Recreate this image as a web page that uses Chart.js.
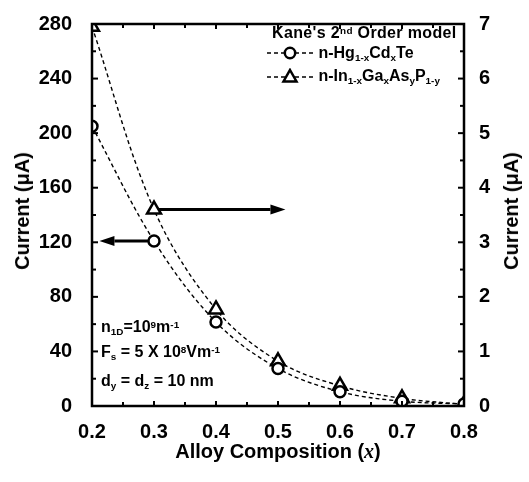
<!DOCTYPE html>
<html>
<head>
<meta charset="utf-8">
<script src="https://cdn.jsdelivr.net/npm/chart.js@4.4.1/dist/chart.umd.min.js"></script>
<style>
  html, body { margin: 0; padding: 0; background: #fff; }
  #wrap { position: relative; width: 529px; height: 482px; font-family: "Liberation Sans", Arial, sans-serif; font-weight: bold; color: #000; }
  canvas { position: absolute; left: 0; top: 0; }
  .ov { position: absolute; white-space: nowrap; line-height: 1; }
  .ov sub, .ov sup { font-size: 62%; position: relative; vertical-align: baseline; line-height: 0; }
  .ov sub { top: 0.35em; }
  .ov sup { top: -0.42em; }
  .rot { transform: translate(-50%, -50%) rotate(-90deg); font-size: 20px; }
</style>
</head>
<body>
<div id="wrap">
  <canvas id="c" width="529" height="482"></canvas>
  <div class="ov rot" style="left:22px; top:211px;">Current (μA)</div>
  <div class="ov rot" style="left:511px; top:211px;">Current (μA)</div>
  <div class="ov" style="left:278px; top:451px; transform:translate(-50%,-50%); font-size:20px;">Alloy Composition (<i style="font-family:'Liberation Serif','Times New Roman',serif;">x</i>)</div>

  <div class="ov" style="left:272px; top:25px; font-size:16px; letter-spacing:0.35px;">Kane's 2<sup>nd</sup> Order model</div>
  <div class="ov" style="left:266px; top:45px; font-size:16px;">
    <svg width="48" height="16" style="vertical-align:middle; position:relative; top:-1px;"><line x1="1" y1="8" x2="47" y2="8" stroke="#000" stroke-width="1.4" stroke-dasharray="4,3"/><circle cx="24" cy="8" r="5.2" fill="#fff" stroke="#000" stroke-width="2.5"/></svg> n-Hg<sub>1-x</sub>Cd<sub>x</sub>Te</div>
  <div class="ov" style="left:266px; top:68px; font-size:16px;">
    <svg width="48" height="16" style="vertical-align:middle; position:relative; top:-1px;"><line x1="1" y1="9" x2="47" y2="9" stroke="#000" stroke-width="1.4" stroke-dasharray="4,3"/><polygon points="24,2 30.5,13.5 17.5,13.5" fill="#fff" stroke="#000" stroke-width="2.5" stroke-linejoin="miter"/></svg> n-In<sub>1-x</sub>Ga<sub>x</sub>As<sub>y</sub>P<sub>1-y</sub></div>

  <div class="ov" style="left:101px; top:319px; font-size:16px;">n<sub>1D</sub>=10<sup>9</sup>m<sup>-1</sup></div>
  <div class="ov" style="left:101px; top:344px; font-size:16px;">F<sub>s</sub> = 5 X 10<sup>8</sup>Vm<sup>-1</sup></div>
  <div class="ov" style="left:101px; top:373px; font-size:16px;">d<sub>y</sub> = d<sub>z</sub> = 10 nm</div>
</div>
<script>
// ---- data ----
const composition = [0.2, 0.3, 0.4, 0.5, 0.6, 0.7, 0.8];
const hgCdTe = [205, 121, 61.5, 27.5, 10.5, 3.5, 1.5];        // left axis, μA
const inGaAsP = [6.95, 3.6, 1.77, 0.82, 0.37, 0.14, 0.03];    // right axis, μA
const leftTicks = [0, 40, 80, 120, 160, 200, 240, 280];
const rightTicks = [0, 1, 2, 3, 4, 5, 6, 7];
const xTicks = [0.2, 0.3, 0.4, 0.5, 0.6, 0.7, 0.8];
// arrows: [axisId, y value, from x, to x (tip)]
const arrows = [
  ['y', 121, 0.3, 0.212],
  ['y1', 3.6, 0.3, 0.512]
];

const FONT = { family: "'Liberation Sans', Arial, sans-serif", weight: 'bold', size: 20 };

const framePlugin = {
  id: 'frame',
  beforeDatasetsDraw(chart) {
    const ctx = chart.ctx;
    ctx.save();
    ctx.strokeStyle = '#000';
    ctx.fillStyle = '#000';
    ctx.lineWidth = 3;
    for (const [axis, yv, x0, x1] of arrows) {
      const py = chart.scales[axis].getPixelForValue(yv);
      const px0 = chart.scales.x.getPixelForValue(x0);
      const px1 = chart.scales.x.getPixelForValue(x1);
      const dir = Math.sign(px1 - px0);
      const head = 15;
      ctx.beginPath();
      ctx.moveTo(px0, py);
      ctx.lineTo(px1 - dir * head, py);
      ctx.stroke();
      ctx.beginPath();
      ctx.moveTo(px1, py);
      ctx.lineTo(px1 - dir * head, py - 5);
      ctx.lineTo(px1 - dir * head, py + 5);
      ctx.closePath();
      ctx.fill();
    }
    ctx.restore();
  },
  afterDraw(chart) {
    const { ctx, chartArea: a, scales } = chart;
    ctx.save();
    ctx.strokeStyle = '#000';
    ctx.lineWidth = 2;
    const drawX = (v, len) => {
      const p = scales.x.getPixelForValue(v);
      ctx.beginPath();
      ctx.moveTo(p, a.bottom); ctx.lineTo(p, a.bottom - len);
      ctx.moveTo(p, a.top); ctx.lineTo(p, a.top + len);
      ctx.stroke();
    };
    for (let i = 0; i < xTicks.length; i++) {
      drawX(xTicks[i], 5);
      if (i < xTicks.length - 1) drawX((xTicks[i] + xTicks[i + 1]) / 2, 4);
    }
    const drawY = (scale, v, len, side) => {
      const p = scale.getPixelForValue(v);
      const x = side === 'l' ? a.left : a.right;
      const d = side === 'l' ? len : -len;
      ctx.beginPath();
      ctx.moveTo(x, p); ctx.lineTo(x + d, p);
      ctx.stroke();
    };
    for (let i = 0; i < leftTicks.length; i++) {
      drawY(scales.y, leftTicks[i], 6, 'l');
      if (i < leftTicks.length - 1) drawY(scales.y, (leftTicks[i] + leftTicks[i + 1]) / 2, 4, 'l');
    }
    for (let i = 0; i < rightTicks.length; i++) {
      drawY(scales.y1, rightTicks[i], 6, 'r');
      if (i < rightTicks.length - 1) drawY(scales.y1, (rightTicks[i] + rightTicks[i + 1]) / 2, 4, 'r');
    }
    ctx.lineWidth = 2.5;
    ctx.strokeRect(a.left, a.top, a.right - a.left, a.bottom - a.top);
    ctx.restore();
  }
};

new Chart(document.getElementById('c'), {
  type: 'line',
  data: {
    labels: composition,
    datasets: [
      {
        label: 'n-Hg1-xCdxTe',
        data: composition.map((x, i) => ({ x, y: hgCdTe[i] })),
        yAxisID: 'y',
        borderColor: '#000',
        borderWidth: 1.4,
        borderDash: [4, 3],
        tension: 0.35,
        pointStyle: 'circle',
        pointRadius: 5.5,
        pointBorderWidth: 2.5,
        pointBackgroundColor: '#fff',
        pointBorderColor: '#000',
        fill: false,
        clip: 0
      },
      {
        label: 'n-In1-xGaxAsyP1-y',
        data: composition.map((x, i) => ({ x, y: inGaAsP[i] })),
        yAxisID: 'y1',
        borderColor: '#000',
        borderWidth: 1.4,
        borderDash: [4, 3],
        tension: 0.35,
        pointStyle: 'triangle',
        pointRadius: 8,
        pointBorderWidth: 2.5,
        pointBackgroundColor: '#fff',
        pointBorderColor: '#000',
        fill: false,
        clip: 0
      }
    ]
  },
  options: {
    responsive: false,
    animation: false,
    layout: { padding: { top: 14, left: 0, right: 0, bottom: 0 } },
    plugins: { legend: { display: false }, tooltip: { enabled: false } },
    scales: {
      x: {
        type: 'linear', min: 0.2, max: 0.8,
        grid: { display: false },
        border: { display: false },
        afterBuildTicks: s => { s.ticks = xTicks.map(v => ({ value: v })); },
        ticks: { color: '#000', font: FONT, padding: 6, maxRotation: 0, callback: v => v.toFixed(1) },
        afterFit: s => { s.height = 76; }
      },
      y: {
        position: 'left', min: 0, max: 280,
        grid: { display: false },
        border: { display: false },
        afterBuildTicks: s => { s.ticks = leftTicks.map(v => ({ value: v })); },
        ticks: { color: '#000', font: FONT, padding: 12 },
        afterFit: s => { s.width = 92; }
      },
      y1: {
        position: 'right', min: 0, max: 7,
        grid: { display: false },
        border: { display: false },
        afterBuildTicks: s => { s.ticks = rightTicks.map(v => ({ value: v })); },
        ticks: { color: '#000', font: FONT, padding: 7 },
        afterFit: s => { s.width = 65; }
      }
    }
  },
  plugins: [framePlugin]
});
</script>
</body>
</html>
